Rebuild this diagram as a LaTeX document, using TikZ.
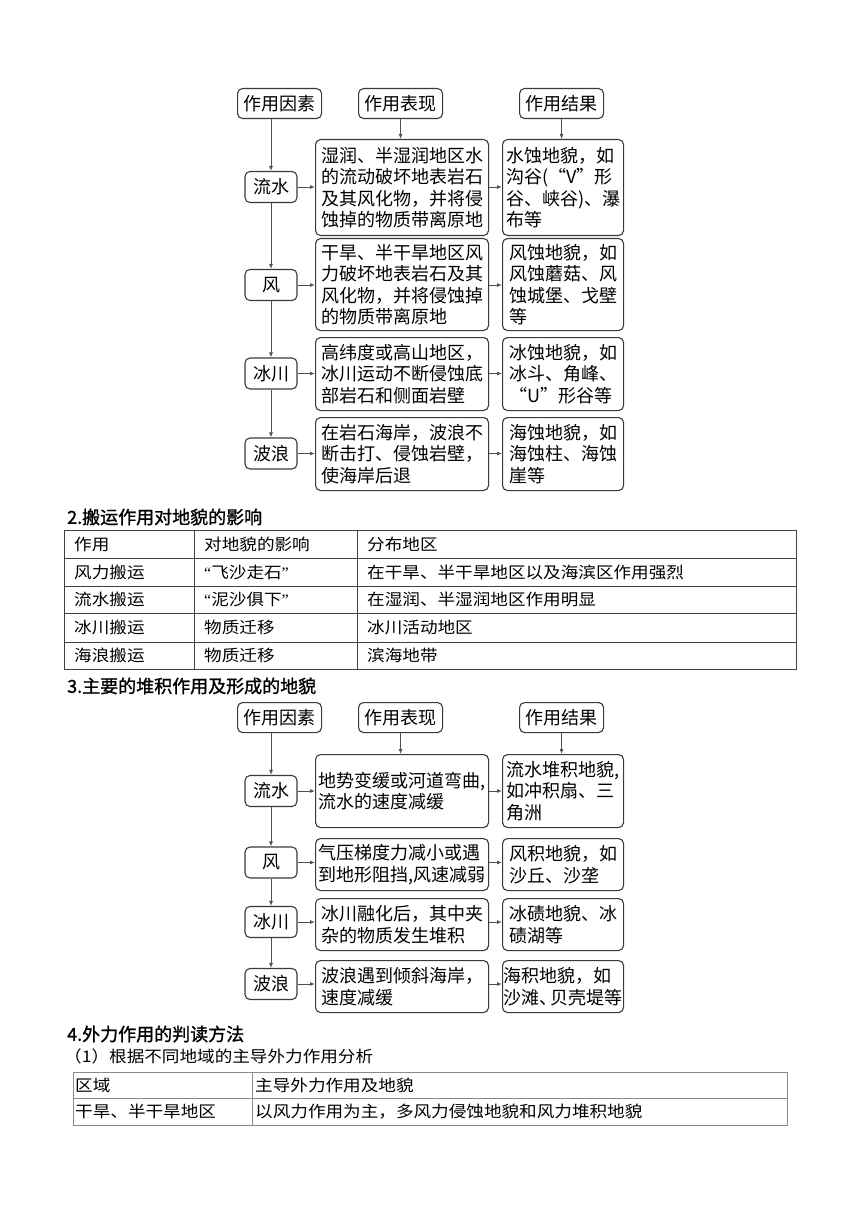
\documentclass[tikz,border=0pt]{standalone}
\usepackage{fontspec}
\usepackage{xcolor}
\setmainfont{Liberation Serif}
\newfontfamily\cjk{Noto Sans CJK SC}
\newfontfamily\cjkwide[FakeStretch=1.1]{Noto Sans CJK SC}
\newfontfamily\cjkhead[FakeBold=1.2]{Noto Sans CJK SC}
\newfontfamily\latq{Liberation Serif}
\definecolor{boxline}{HTML}{3A3A3A}
\definecolor{arrline}{HTML}{505050}
\definecolor{tabline}{HTML}{404040}
\definecolor{tabgray}{HTML}{8A8A8A}
\usetikzlibrary{arrows.meta,positioning}

\begin{document}
\begin{tikzpicture}[x=1pt,y=-1pt,
  box/.style={draw=boxline,line width=1.1pt,rounded corners=5pt,inner sep=0pt,align=left,
    font=\cjk\fontsize{18pt}{21.5pt}\selectfont},
  headbox/.style={box,anchor=north west,minimum width=84pt,minimum height=30pt},
  sidebox/.style={box,minimum width=52pt,minimum height=31pt},
  midbox/.style={box,anchor=north west,minimum width=173pt},
  resbox/.style={box,anchor=north west,minimum width=121pt},
  arr/.style={draw=arrline,line width=0.9pt,-{Latex[length=5pt,width=4pt]}},
  title/.style={anchor=west,inner sep=0pt,font=\cjkhead\fontsize{18pt}{21pt}\selectfont},
  celltext/.style={anchor=west,inner sep=0pt,font=\cjkwide\fontsize{16pt}{19pt}\selectfont}]
\useasboundingbox (0,0) rectangle (860,1222);

% ---- erosion chart
\node[headbox] (facA) at (237,88) {作用因素};
\node[headbox] (perA) at (358,88) {作用表现};
\node[headbox] (resA) at (519,88) {作用结果};

\node[sidebox] (facA1) at (271,187) {流水};
\node[sidebox] (facA2) at (271,285) {风};
\node[sidebox] (facA3) at (271,373.5) {冰川};
\node[sidebox] (facA4) at (271,453.5) {波浪};

\node[midbox,minimum height=96pt] (perA1) at (315,139) {湿润、半湿润地区水\\的流动破坏地表岩石\\及其风化物，并将侵\\蚀掉的物质带离原地};
\node[midbox,minimum height=92pt] (perA2) at (315,238) {干旱、半干旱地区风\\力破坏地表岩石及其\\风化物，并将侵蚀掉\\的物质带离原地};
\node[midbox,minimum height=73pt] (perA3) at (315,337) {高纬度或高山地区，\\冰川运动不断侵蚀底\\部岩石和侧面岩壁};
\node[midbox,minimum height=73pt] (perA4) at (315,417) {在岩石海岸，波浪不\\断击打、侵蚀岩壁，\\使海岸后退};

\node[resbox,minimum height=96pt] (resA1) at (502,139) {水蚀地貌，如\\沟谷(“V”形\\谷、峡谷)、瀑\\布等};
\node[resbox,minimum height=92pt] (resA2) at (502,238) {风蚀地貌，如\\风蚀蘑菇、风\\蚀城堡、戈壁\\等};
\node[resbox,minimum height=73pt] (resA3) at (502,337) {冰蚀地貌，如\\冰斗、角峰、\\“U”形谷等};
\node[resbox,minimum height=73pt] (resA4) at (502,417) {海蚀地貌，如\\海蚀柱、海蚀\\崖等};

\draw[arr] (facA.south -| facA1.north) -- (facA1.north);
\foreach \i/\j in {1/2,2/3,3/4} \draw[arr] (facA\i.south) -- (facA\j.north);
\draw[arr] (perA.south) -- (perA.south |- perA1.north);
\draw[arr] (resA.south) -- (resA.south |- resA1.north);
\foreach \i in {1,...,4} {
  \draw[arr] (facA\i.east) -- (facA\i.east -| perA\i.west);
  \draw[arr] (facA\i.east -| perA\i.east) -- (facA\i.east -| resA\i.west);
}

% ---- transport table
\node[title] (tit2) at (67,517) {2.搬运作用对地貌的影响};
\draw[tabline,line width=0.9pt] (64,530) rectangle (796,669);
\foreach \y in {558,586,613,642} \draw[tabline,line width=0.9pt] (64,\y) -- (796,\y);
\foreach \x in {194,357} \draw[tabline,line width=0.9pt] (\x,530) -- (\x,669);
\foreach \a/\b/\c/\y [count=\i] in {作用/对地貌的影响/分布地区/544,
    风力搬运/{\latq “}飞沙走石{\latq ”}/在干旱、半干旱地区以及海滨区作用强烈/572,
    流水搬运/{\latq “}泥沙俱下{\latq ”}/在湿润、半湿润地区作用明显/599.5,
    冰川搬运/物质迁移/冰川活动地区/627.5,
    海浪搬运/物质迁移/滨海地带/655.5} {
  \node[celltext] (tra\i) at (74,\y) {\a};
  \node[celltext] (trb\i) at (204,\y) {\b};
  \node[celltext] (trc\i) at (367,\y) {\c};
}

% ---- deposition chart
\node[title] (tit3) at (67,686) {3.主要的堆积作用及形成的地貌};
\node[headbox] (facB) at (237,702) {作用因素};
\node[headbox] (perB) at (358,702) {作用表现};
\node[headbox] (resB) at (519,702) {作用结果};

\node[sidebox] (facB1) at (271,791) {流水};
\node[sidebox] (facB2) at (271,862.5) {风};
\node[sidebox] (facB3) at (271,922) {冰川};
\node[sidebox] (facB4) at (271,984) {波浪};

\node[midbox,minimum height=73pt] (perB1) at (315,754) {地势变缓或河道弯曲,\\流水的速度减缓};
\node[midbox,minimum height=52pt] (perB2) at (315,838) {气压梯度力减小或遇\\到地形阻挡,风速减弱};
\node[midbox,minimum height=52pt] (perB3) at (315,898) {冰川融化后，其中夹\\杂的物质发生堆积};
\node[midbox,minimum height=52pt] (perB4) at (315,960) {波浪遇到倾斜海岸，\\速度减缓};

\node[resbox,minimum height=73pt] (resB1) at (502,754) {流水堆积地貌,\\如冲积扇、三\\角洲};
\node[resbox,minimum height=52pt] (resB2) at (502,838) {风积地貌，如\\沙丘、沙垄};
\node[resbox,minimum height=52pt] (resB3) at (502,898) {冰碛地貌、冰\\碛湖等};
\node[resbox,minimum height=52pt] (resB4) at (502,960) {海积地貌，如\\沙滩、\kern-7pt贝壳堤等};

\draw[arr] (facB.south -| facB1.north) -- (facB1.north);
\foreach \i/\j in {1/2,2/3,3/4} \draw[arr] (facB\i.south) -- (facB\j.north);
\draw[arr] (perB.south) -- (perB.south |- perB1.north);
\draw[arr] (resB.south) -- (resB.south |- resB1.north);
\foreach \i in {1,...,4} {
  \draw[arr] (facB\i.east) -- (facB\i.east -| perB\i.west);
  \draw[arr] (facB\i.east -| perB\i.east) -- (facB\i.east -| resB\i.west);
}

% ---- reading method
\node[title] (tit4) at (67,1034) {4.外力作用的判读方法};
\node[celltext] (sub4) at (64,1056) {（1）根据不同地域的主导外力作用分析};
\draw[tabgray,line width=0.9pt] (73,1072) rectangle (787,1125);
\draw[tabgray,line width=0.9pt] (73,1098) -- (787,1098);
\draw[tabgray,line width=0.9pt] (252,1072) -- (252,1125);
\node[celltext] (rda1) at (75,1085) {区域};
\node[celltext] (rdb1) at (255,1085) {主导外力作用及地貌};
\node[celltext] (rda2) at (75,1111.5) {干旱、半干旱地区};
\node[celltext] (rdb2) at (255,1111.5) {以风力作用为主，多风力侵蚀地貌和风力堆积地貌};
\end{tikzpicture}
\end{document}
